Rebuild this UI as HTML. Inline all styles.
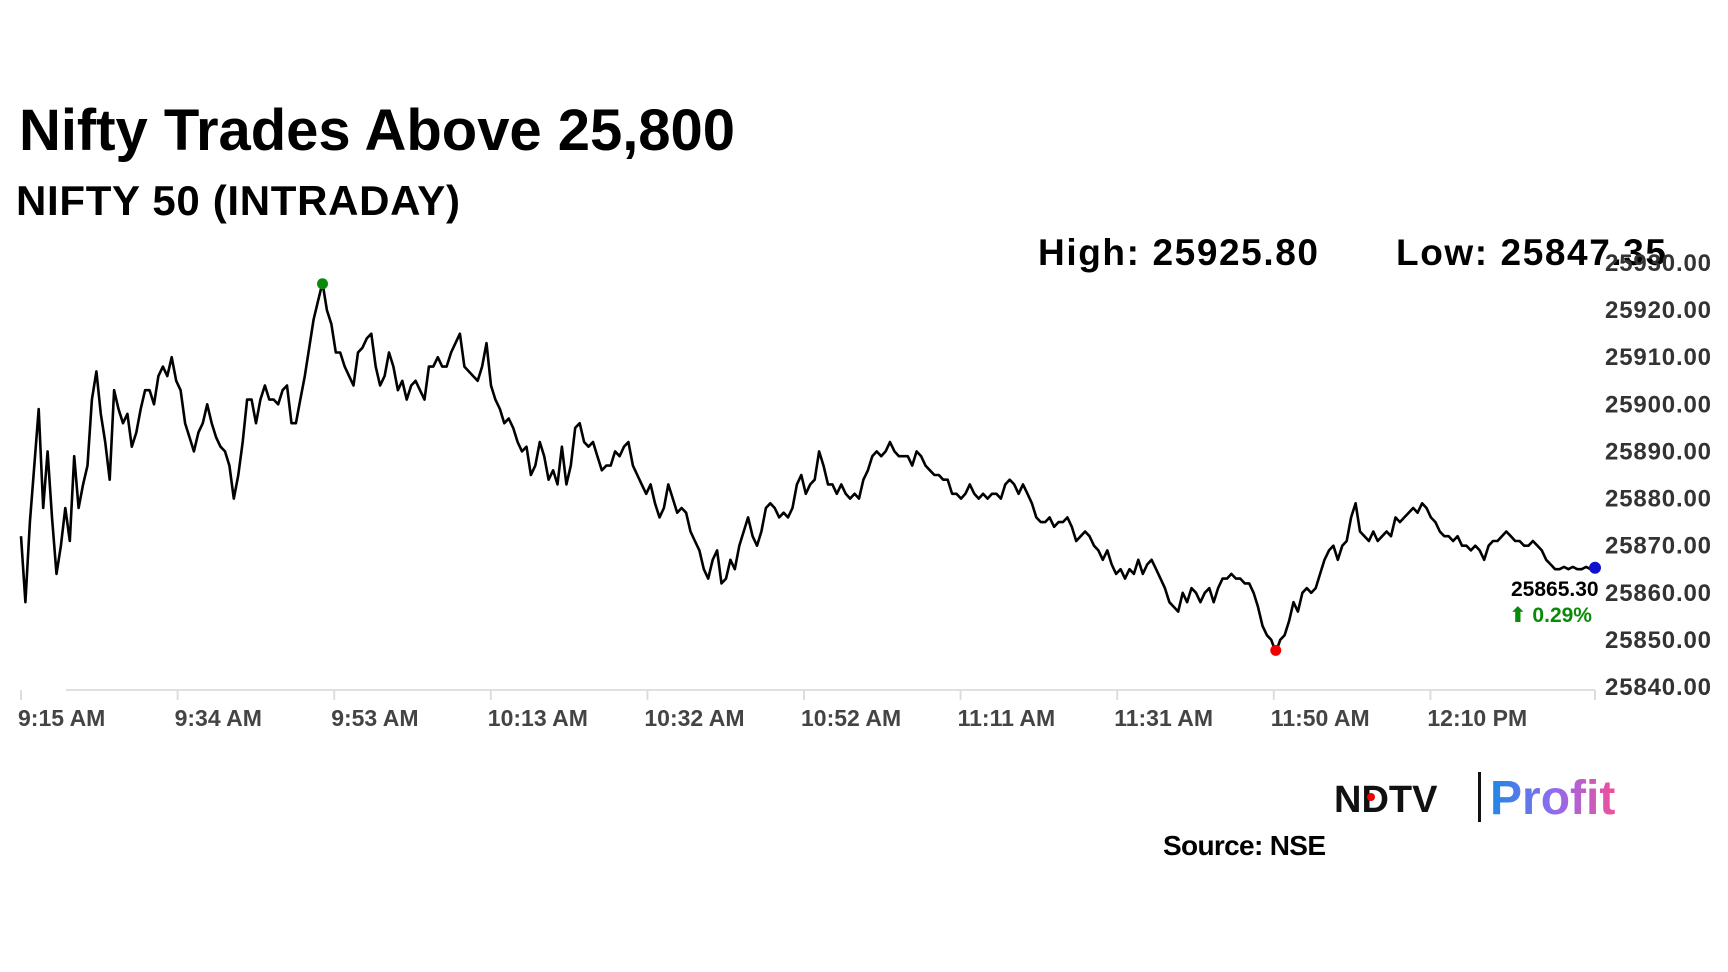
<!DOCTYPE html>
<html><head><meta charset="utf-8"><style>
html,body{margin:0;padding:0;background:#fff;width:1728px;height:972px;overflow:hidden}
svg{display:block}
</style></head><body>
<svg id="chart" width="1728" height="972">
<text x="19" y="150" font-family="Liberation Sans, sans-serif" font-weight="bold" font-size="58" fill="#000" textLength="716">Nifty Trades Above 25,800</text>
<text x="16" y="215" font-family="Liberation Sans, sans-serif" font-weight="bold" font-size="42" fill="#000" textLength="444">NIFTY 50 (INTRADAY)</text>
<text x="1038" y="265" font-family="Liberation Sans, sans-serif" font-weight="bold" font-size="37" fill="#000" textLength="280">High: 25925.80</text>
<text x="1396" y="265" font-family="Liberation Sans, sans-serif" font-weight="bold" font-size="37" fill="#000" textLength="270">Low: 25847.35</text>
<g id="plot"></g>
<g>
<text x="1334" y="812" font-family="Liberation Sans, sans-serif" font-weight="bold" font-size="38" fill="#111">NDTV</text>
<circle cx="1371" cy="797" r="4" fill="#e00"/>
<rect x="1478" y="772" width="3" height="50" fill="#111"/>
<defs><linearGradient id="pg" x1="0" x2="1"><stop offset="0" stop-color="#1e88e5"/><stop offset="0.5" stop-color="#8e6cf0"/><stop offset="1" stop-color="#f0509a"/></linearGradient></defs>
<text x="1490" y="814" font-family="Liberation Sans, sans-serif" font-weight="bold" font-size="48" fill="url(#pg)">Profit</text>
</g>
<text x="1163" y="855" font-family="Liberation Sans, sans-serif" font-weight="bold" font-size="28" fill="#000" textLength="163">Source: NSE</text>
</svg>
<script>
const tickLabels=["9:15 AM","9:34 AM","9:53 AM","10:13 AM","10:32 AM","10:52 AM","11:11 AM","11:31 AM","11:50 AM","12:10 PM"];
const yTicks=[25930,25920,25910,25900,25890,25880,25870,25860,25850,25840];
const prices=[25872,25858,25875,25887,25899,25878,25890,25876,25864,25870,25878,25871,25889,25878,25883,25887,25901,25907,25898,25892,25884,25903,25899,25896,25898,25891,25894,25899,25903,25903,25900,25906,25908,25906,25910,25905,25903,25896,25893,25890,25894,25896,25900,25896,25893,25891,25890,25887,25880,25885,25892,25901,25901,25896,25901,25904,25901,25901,25900,25903,25904,25896,25896,25901,25906,25912,25918,25922,25925.8,25920,25917,25911,25911,25908,25906,25904,25911,25912,25914,25915,25908,25904,25906,25911,25908,25903,25905,25901,25904,25905,25903,25901,25908,25908,25910,25908,25908,25911,25913,25915,25908,25907,25906,25905,25908,25913,25904,25901,25899,25896,25897,25895,25892,25890,25891,25885,25887,25892,25889,25884,25886,25883,25891,25883,25887,25895,25896,25892,25891,25892,25889,25886,25887,25887,25890,25889,25891,25892,25887,25885,25883,25881,25883,25879,25876,25878,25883,25880,25877,25878,25877,25873,25871,25869,25865,25863,25867,25869,25862,25863,25867,25865,25870,25873,25876,25872,25870,25873,25878,25879,25878,25876,25877,25876,25878,25883,25885,25881,25883,25884,25890,25887,25883,25883,25881,25883,25881,25880,25881,25880,25884,25886,25889,25890,25889,25890,25892,25890,25889,25889,25889,25887,25890,25889,25887,25886,25885,25885,25884,25884,25881,25881,25880,25881,25883,25881,25880,25881,25880,25881,25881,25880,25883,25884,25883,25881,25883,25881,25879,25876,25875,25875,25876,25874,25875,25875,25876,25874,25871,25872,25873,25872,25870,25869,25867,25869,25866,25864,25865,25863,25865,25864,25867,25864,25866,25867,25865,25863,25861,25858,25857,25856,25860,25858,25861,25860,25858,25860,25861,25858,25861,25863,25863,25864,25863,25863,25862,25862,25860,25857,25853,25851,25850,25847.35,25850,25851,25854,25858,25856,25860,25861,25860,25861,25864,25867,25869,25870,25867,25870,25871,25876,25879,25873,25872,25871,25873,25871,25872,25873,25872,25876,25875,25876,25877,25878,25877,25879,25878,25876,25875,25873,25872,25872,25871,25872,25870,25870,25869,25870,25869,25867,25870,25871,25871,25872,25873,25872,25871,25871,25870,25870,25871,25870,25869,25867,25866,25865,25865,25865.5,25865,25865.5,25865,25865,25865.5,25865,25865.3];
const NS="http://www.w3.org/2000/svg";
const g=document.getElementById('plot');
const X0=21,X1=1595,YMIN=25840,YMAX=25930,Y0=687,Y1=263;
const xIdx=i=>X0+(X1-X0)*i/(prices.length-1);
const yVal=v=>Y0-(v-YMIN)*(Y0-Y1)/(YMAX-YMIN);
function mk(t,a){const e=document.createElementNS(NS,t);for(const k in a)e.setAttribute(k,a[k]);g.appendChild(e);return e;}
const base=mk('line',{x1:66,y1:690,x2:1595,y2:690,stroke:'#e0e0e0','stroke-width':2});


tickLabels.forEach((t,i)=>{
  const x=X0+156.6*i;
  const tk=mk('line',{x1:x,y1:690,x2:x,y2:700,stroke:'#ddd','stroke-width':2});
  
  
  const tx=mk('text',{x:x-3,y:726,'font-family':'Liberation Sans, sans-serif','font-weight':'bold','font-size':23,fill:'#444'});
  tx.textContent=t;
  
  
});
const lastTk=mk('line',{x1:1595,y1:690,x2:1595,y2:700,stroke:'#ddd','stroke-width':2});


yTicks.forEach(v=>{
  const tx=mk('text',{x:1605,y:yVal(v)+8,'font-family':'Liberation Sans, sans-serif','font-weight':'bold','font-size':24,fill:'#333',textLength:106});
  tx.textContent=v.toFixed(2);
  
  
});
const d=prices.map((v,i)=>(i?'L':'M')+xIdx(i).toFixed(1)+' '+yVal(v).toFixed(1)).join(' ');
const line=mk('path',{d:d,fill:'none',stroke:'#000','stroke-width':2.6,'stroke-linejoin':'round'});


let hi=0,lo=0;prices.forEach((v,i)=>{if(v>prices[hi])hi=i;if(v<prices[lo])lo=i;});
const hd=mk('circle',{cx:xIdx(hi),cy:yVal(prices[hi])+1,r:5.5,fill:'#0a8a0a'});


const ld=mk('circle',{cx:xIdx(lo),cy:yVal(prices[lo])-2,r:5.5,fill:'#e00'});


const li=prices.length-1;
const cd=mk('circle',{cx:xIdx(li),cy:yVal(prices[li]),r:6,fill:'#1010d0'});


const lp=mk('text',{x:1511,y:yVal(prices[li])+28,'font-family':'Liberation Sans, sans-serif','font-weight':'bold','font-size':21,fill:'#000'});
lp.textContent=prices[li].toFixed(2);


const pc=mk('text',{x:1509,y:yVal(prices[li])+54,'font-family':'Liberation Sans, DejaVu Sans, sans-serif','font-weight':'bold','font-size':21,fill:'#0a8a0a'});
pc.textContent='⬆ 0.29%';


</script>
</body></html>
